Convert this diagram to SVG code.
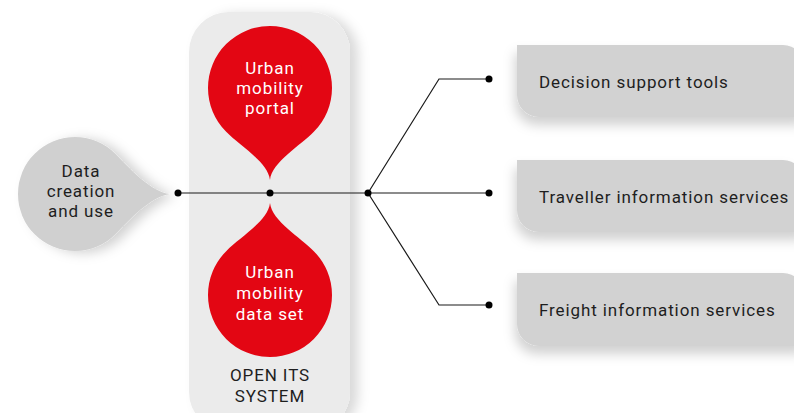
<svg xmlns="http://www.w3.org/2000/svg" width="794" height="413" viewBox="0 0 794 413">
<style>
.t{font-family:Roboto,"Liberation Sans",sans-serif;font-size:17px;letter-spacing:0.9px;fill:#1e1e1e}
.w{font-family:Roboto,"Liberation Sans",sans-serif;font-size:17px;letter-spacing:0.9px;fill:#ffffff;text-anchor:middle}
.c{text-anchor:middle}
.ln{fill:none;stroke:#1a1a1a;stroke-width:1.2}
.dot{fill:#000}
.red{fill:#e30613}
.box{fill:#d2d2d2}
</style>
<defs>
<filter id="sh" x="-30%" y="-30%" width="160%" height="170%">
<feDropShadow dx="-2" dy="8" stdDeviation="6" flood-color="#000" flood-opacity="0.18"/>
</filter>
<filter id="shr" x="-20%" y="-10%" width="150%" height="120%">
<feDropShadow dx="8" dy="2" stdDeviation="6" flood-color="#000" flood-opacity="0.15"/>
</filter>
<path id="drop" d="M0,92 C-2,74 -30,58 -43.8,43.8 A62,62 0 1 1 43.8,43.8 C30,58 2,74 0,92Z"/>
</defs>
<rect width="794" height="413" fill="#ffffff"/>

<g id="open-its-system">
<rect x="189" y="12" width="161" height="420" rx="40" fill="#ebebeb" filter="url(#shr)"/>
<text class="t c" x="270" y="381" font-size="16" letter-spacing="1.2">OPEN ITS</text>
<text class="t c" x="270" y="402" font-size="16" letter-spacing="1.2">SYSTEM</text>
</g>

<g id="data-creation">
<path d="M0,95 C-2,76 -26,54 -40.3,40.3 A57,57 0 1 1 40.3,40.3 C26,54 2,76 0,95Z" transform="translate(75,194) rotate(-90)" fill="#d0d0d0" filter="url(#sh)"/>
<text class="t c" x="81" y="177">Data</text>
<text class="t c" x="81" y="197">creation</text>
<text class="t c" x="81" y="217">and use</text>
</g>

<g id="portal">
<use href="#drop" class="red" transform="translate(270,88)"/>
<text class="w" x="270" y="74">Urban</text>
<text class="w" x="270" y="94">mobility</text>
<text class="w" x="270" y="114">portal</text>
</g>

<g id="dataset">
<use href="#drop" class="red" transform="translate(270,295) rotate(180)"/>
<text class="w" x="270" y="278">Urban</text>
<text class="w" x="270" y="299">mobility</text>
<text class="w" x="270" y="320">data set</text>
</g>

<g id="decision-support">
<path class="box" filter="url(#sh)" d="M517,45 H783 A22,22 0 0 1 805,67 V117 H539 A22,22 0 0 1 517,95 Z"/>
<text class="t" x="539" y="88">Decision support tools</text>
</g>

<g id="traveller-info">
<path class="box" filter="url(#sh)" d="M517,160 H783 A22,22 0 0 1 805,182 V232 H539 A22,22 0 0 1 517,210 Z"/>
<text class="t" x="539" y="203">Traveller information services</text>
</g>

<g id="freight-info">
<path class="box" filter="url(#sh)" d="M517,273 H783 A22,22 0 0 1 805,295 V346 H539 A22,22 0 0 1 517,324 Z"/>
<text class="t" x="539" y="316">Freight information services</text>
</g>

<g id="connectors">
<line class="ln" x1="178" y1="193" x2="368" y2="193"/>
<polyline class="ln" points="368,193 439,79 489,79"/>
<line class="ln" x1="368" y1="193" x2="489" y2="193"/>
<polyline class="ln" points="368,193 439,305 489,305"/>
<circle class="dot" cx="178" cy="193" r="3.5"/>
<circle class="dot" cx="270" cy="193" r="3.5"/>
<circle class="dot" cx="368" cy="193" r="3.5"/>
<circle class="dot" cx="489" cy="79" r="3.5"/>
<circle class="dot" cx="489" cy="193" r="3.5"/>
<circle class="dot" cx="489" cy="305" r="3.5"/>
</g>
</svg>
